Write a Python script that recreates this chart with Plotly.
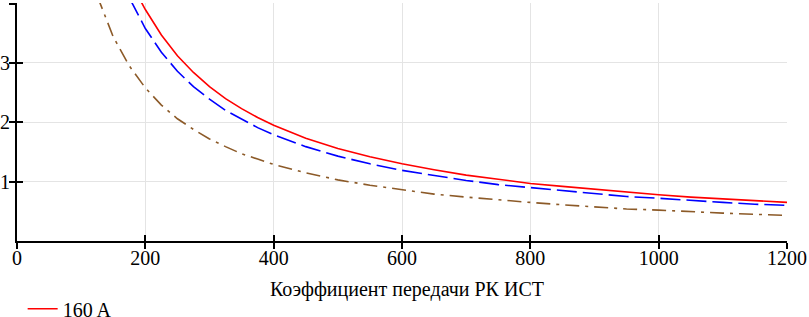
import plotly.graph_objects as go

# Read-off values (Коэффициент передачи РК ИСТ vs. value)
x_red = [190, 200, 225, 250, 275, 300, 325, 350, 375, 400, 450, 500, 550, 600, 650,
         700, 750, 800, 850, 900, 950, 1000, 1050, 1100, 1150, 1200]
y_red = [4.1, 3.9, 3.47, 3.12, 2.84, 2.6, 2.4, 2.23, 2.08, 1.95, 1.73, 1.56, 1.42, 1.3,
         1.2, 1.11, 1.04, 0.97, 0.92, 0.87, 0.82, 0.78, 0.74, 0.71, 0.68, 0.65]

x_blue = [175, 200, 225, 250, 275, 300, 325, 350, 375, 400, 450, 500, 550, 600, 650,
          700, 750, 800, 850, 900, 950, 1000, 1050, 1100, 1150, 1200]
y_blue = [4.1, 3.58, 3.18, 2.86, 2.6, 2.39, 2.2, 2.05, 1.91, 1.79, 1.59, 1.43, 1.3, 1.19,
          1.1, 1.02, 0.95, 0.9, 0.84, 0.8, 0.75, 0.72, 0.68, 0.65, 0.62, 0.6]

x_brown = [125, 150, 175, 200, 225, 250, 275, 300, 325, 350, 375, 400, 450, 500, 550,
           600, 650, 700, 750, 800, 850, 900, 950, 1000, 1050, 1100, 1150, 1200]
y_brown = [4.13, 3.44, 2.95, 2.58, 2.29, 2.06, 1.88, 1.72, 1.59, 1.47, 1.38, 1.29, 1.15,
           1.03, 0.94, 0.86, 0.79, 0.74, 0.69, 0.65, 0.61, 0.57, 0.54, 0.52, 0.49, 0.47,
           0.45, 0.43]

x_ticks = [0, 200, 400, 600, 800, 1000, 1200]
y_ticks = [1, 2, 3, 4]
x_title = "Коэффициент передачи РК ИСТ"
legend_name = "160 A"

FONT = "Liberation Serif"
FS = 20

fig = go.Figure()
fig.add_trace(go.Scatter(x=x_red, y=y_red, mode="lines", name=legend_name,
                         line=dict(color="rgb(255,0,0)", width=1.6)))
fig.add_trace(go.Scatter(x=x_blue, y=y_blue, mode="lines", showlegend=False,
                         line=dict(color="rgb(0,0,255)", width=1.6, dash="20px,6px")))
fig.add_trace(go.Scatter(x=x_brown, y=y_brown, mode="lines", showlegend=False,
                         line=dict(color="rgb(140,90,40)", width=1.6,
                                   dash="14px,6px,3px,6px")))
# invisible trace on the overlay axes (for inside ticks)
fig.add_trace(go.Scatter(x=[0], y=[0], xaxis="x2", yaxis="y2", mode="markers",
                         marker=dict(opacity=0), showlegend=False, hoverinfo="skip"))

axis_common = dict(showline=True, linecolor="black", linewidth=2, ticks="outside",
                   ticklen=6, tickwidth=2, tickcolor="black", zeroline=False,
                   automargin=False,
                   tickfont=dict(family=FONT, size=FS, color="black"))

YMAX = 4.01

fig.update_layout(
    width=809, height=317,
    margin=dict(l=17, r=22, t=3, b=76, autoexpand=False),
    plot_bgcolor="white", paper_bgcolor="white",
    font=dict(family=FONT, size=FS, color="black"),
    xaxis=dict(range=[0, 1200], tickvals=x_ticks, tickformat="d",
               showgrid=True, gridcolor="rgb(228,228,228)", gridwidth=1,
               ticklabelstandoff=-8,
               **axis_common),
    yaxis=dict(range=[0, YMAX], tickvals=y_ticks,
               showgrid=True, gridcolor="rgb(228,228,228)", gridwidth=1,
               ticklabelstandoff=-5,
               **axis_common),
    xaxis2=dict(range=[0, 1200], tickvals=x_ticks, overlaying="x", anchor="y2",
                side="bottom", ticks="inside", ticklen=6, tickwidth=2,
                tickcolor="black", showticklabels=False, showgrid=False,
                zeroline=False, showline=False, automargin=False),
    yaxis2=dict(range=[0, YMAX], tickvals=y_ticks, overlaying="y", anchor="x2",
                side="left", ticks="inside", ticklen=6, tickwidth=2,
                tickcolor="black", showticklabels=False, showgrid=False,
                zeroline=False, showline=False, automargin=False),
    legend=dict(orientation="h", xref="container", yref="container",
                x=0.028, xanchor="left", y=0.026, yanchor="middle",
                font=dict(family=FONT, size=FS), bgcolor="rgba(0,0,0,0)"),
    annotations=[dict(text=x_title, xref="paper", yref="paper", x=0.506, y=-0.205,
                      xanchor="center", yanchor="middle", showarrow=False,
                      font=dict(family=FONT, size=FS, color="black"))],
)

fig.write_html("out.html", config={"displayModeBar": False},
               post_script="document.body.style.margin='0px';")
